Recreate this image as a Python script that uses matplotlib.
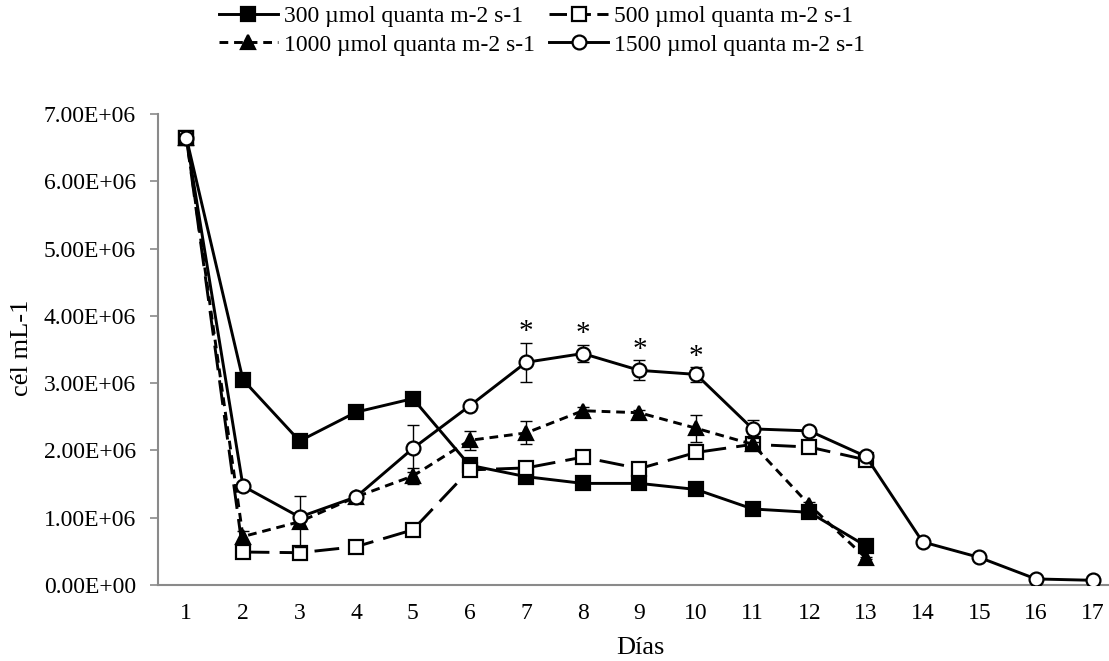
import matplotlib
matplotlib.use("Agg")
import matplotlib.pyplot as plt
from matplotlib.lines import Line2D
import numpy as np

plt.rcParams['font.family'] = ['Liberation Serif', 'DejaVu Serif']

days = list(range(1, 18))
day_labels = [str(d) for d in days]

# cell density (cells per mL, in millions)
d300 = [6.65, 3.05, 2.14, 2.57, 2.77, 1.78, 1.61, 1.51, 1.51, 1.42, 1.13, 1.08, 0.58]
d500 = [6.65, 0.49, 0.48, 0.57, 0.82, 1.71, 1.74, 1.90, 1.73, 1.97, 2.09, 2.05, 1.86]
d1000 = [6.65, 0.72, 0.94, 1.31, 1.62, 2.15, 2.26, 2.59, 2.56, 2.33, 2.09, 1.19, 0.40]
d1500 = [6.65, 1.47, 1.01, 1.31, 2.03, 2.66, 3.31, 3.44, 3.19, 3.13, 2.32, 2.29, 1.91,
         0.64, 0.41, 0.09, 0.07]

# standard deviations (millions)
e300 = [0, 0.03, 0.03, 0.03, 0.03, 0.03, 0.03, 0.03, 0.03, 0.03, 0.03, 0.03, 0.03]
e500 = [0, 0.03, 0.03, 0.03, 0.03, 0.03, 0.03, 0.03, 0.03, 0.03, 0.03, 0.03, 0.03]
e1000 = [0, 0.08, 0.38, 0.05, 0.12, 0.14, 0.17, 0.05, 0.04, 0.20, 0.03, 0.05, 0.02]
e1500 = [0, 0.05, 0.05, 0.05, 0.35, 0.05, 0.29, 0.13, 0.15, 0.11, 0.13, 0.06, 0.04,
         0.03, 0.02, 0.01, 0.01]

# days with significant differences
sig_days = [7, 8, 9, 10]

labels = ["300 \u00b5mol quanta m-2 s-1", "500 \u00b5mol quanta m-2 s-1",
          "1000 \u00b5mol quanta m-2 s-1", "1500 \u00b5mol quanta m-2 s-1"]

W, H = 1109, 661
fig = plt.figure(figsize=(W / 100, H / 100), dpi=100)
ax_left, ax_bottom = 158 / W, (H - 585) / H
ax = fig.add_axes([ax_left, ax_bottom, 17 * 56.64 / W, 471 / H])

scale = 1e6
lw = 2.1
series = [
    (d300, e300, dict(linestyle='-', marker='s', markersize=10, markerfacecolor='black')),
    (d500, e500, dict(linestyle=(0, (8.5, 3.5)), marker='s', markersize=9.5, markerfacecolor='white')),
    (d1000, e1000, dict(linestyle=(0, (3, 2)), marker='^', markersize=10, markerfacecolor='black')),
    (d1500, e1500, dict(linestyle='-', marker='o', markersize=10, markerfacecolor='white')),
]

handles = []
for i, (vals, errs, style) in enumerate(series):
    x = days[:len(vals)]
    y = np.array(vals) * scale
    yerr = np.array(errs) * scale
    ax.errorbar(x, y, yerr=yerr, fmt='none', ecolor='black', elinewidth=1.0,
                capsize=4.2, capthick=1.0, zorder=2 + i)
    h, = ax.plot(x, y, color='black', linewidth=lw, markeredgecolor='black',
                 markeredgewidth=1.6, zorder=3 + i, label=labels[i], **style)
    handles.append(h)

# legend key for the long-dash series uses a shorter dash so the gaps show
handles[1] = Line2D([], [], color='black', linewidth=lw, linestyle=(0, (6, 2.2)),
                    marker='s', markersize=9.5, markerfacecolor='white',
                    markeredgecolor='black', markeredgewidth=1.6)

for d in sig_days:
    idx = d - 1
    top = (d1500[idx] + e1500[idx]) * scale
    ax.annotate('*', xy=(d, top), xytext=(0, 2.5), textcoords='offset points',
                ha='center', va='baseline', fontsize=21, color='black', zorder=10)

ax.set_xlim(0.5, 17.5)
ax.set_ylim(0, 7e6)
ax.set_xticks(days)
ax.set_xticklabels(day_labels)
ax.set_yticks(np.arange(0, 7.01e6, 1e6))
ax.set_yticklabels([f"{v:.2E}" for v in np.arange(0, 7.01e6, 1e6)])

axis_color = '#8a8a8a'
for side in ['top', 'right']:
    ax.spines[side].set_visible(False)
for side in ['left', 'bottom']:
    ax.spines[side].set_color(axis_color)
    ax.spines[side].set_linewidth(1.5)
ax.tick_params(axis='y', direction='out', length=6, width=1.2, color=axis_color,
               labelsize=17, pad=10)
ax.tick_params(axis='x', length=0, labelsize=17, pad=13)

fig.text(640 / W, 1 - 648 / H, 'Días', ha='center', va='center', fontsize=19)
fig.text(22 / W, 1 - 348 / H, 'cél mL-1', ha='center', va='center', rotation=90, fontsize=19)

order = [0, 2, 1, 3]
fig.legend([handles[k] for k in order], [labels[k] for k in order], ncol=2,
           loc='center', bbox_to_anchor=(542 / W, 1 - 30.5 / H), frameon=False,
           fontsize=17, handlelength=2.5, handletextpad=0.25, columnspacing=0.6,
           labelspacing=0.3, numpoints=1, borderpad=0, borderaxespad=0)

fig.savefig('out.png', dpi=100)
